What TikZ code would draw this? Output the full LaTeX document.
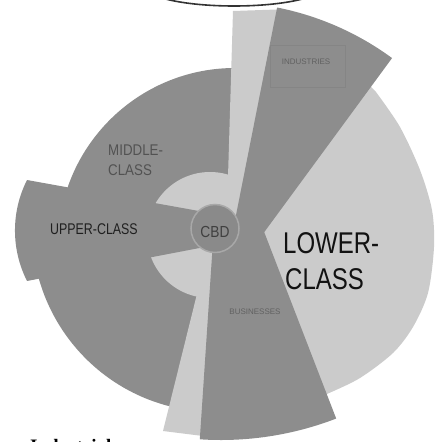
\documentclass[tikz,border=0pt]{standalone}
\usepackage{fontspec}
\newfontfamily\nsans[FakeStretch=0.86]{Liberation Sans}
\newfontfamily\lsans[FakeStretch=0.80]{Liberation Sans}
\newfontfamily\tsans{Liberation Sans}
\newfontfamily\bserif{Liberation Serif}
\definecolor{darkreg}{HTML}{8D8D8D}
\definecolor{lightreg}{HTML}{CBCBCB}
\definecolor{cbdfill}{HTML}{8A8A8A}
\definecolor{cbdrim}{HTML}{A8A8A8}
\begin{document}
\begin{tikzpicture}[x=1pt,y=-1pt,
  dark/.style={fill=darkreg},
  light/.style={fill=lightreg},
  lbl/.style={inner sep=0pt,anchor=base west},
  tiny/.style={inner sep=0pt,font=\tsans\fontsize{8}{9}\selectfont,text=black!62}]
\useasboundingbox (0,0) rectangle (442,442);
\clip (0,0) rectangle (442,442);
% top ellipse fragment
\draw[line width=1.6pt,black!80] (234,-14) ellipse[x radius=90,y radius=20];
% middle class
\path[dark] (236,176) -- (241.2,68.1) arc[start angle=272,end angle=185,radius=177]
  -- (32,229) arc[start angle=180,end angle=100,radius=183]
  -- (200,294) -- (210,235) -- cycle;
% lower class
\path[light] (250,250) -- (362,78)
  -- plot[smooth] coordinates {(376,92) (400,127) (420,170) (432,210) (434,247) (428,293) (413,327) (393,353) (360,378) (327,394) (310,401)}
  -- cycle;
% light ring
\path[light] (210,235) circle[radius=63];
% top light sliver
\path[light] (226.4,230) -- (233,11) -- (277,9.5) -- (240,230) -- cycle;
% industries
\path[dark] (221,291) -- (277.1,7.5) arc[start angle=281.2,end angle=306.3,radius=289] -- cycle;
% bottom light sliver
\path[light] (205.4,260) -- (163,431) -- (203,436) -- (214,260) -- cycle;
% businesses
\path[dark] (213.8,229) -- (199.8,439.3) arc[start angle=93.8,end angle=68.9,radius=320] -- (263,229) -- cycle;
% upper class
\path[dark] (27,180) arc[start angle=206.8,end angle=153.2,radius=112] -- (210,246) -- (210,213) -- cycle;
% CBD
\draw[fill=cbdfill,draw=cbdrim,line width=1.5pt] (215,228.5) circle[radius=24];
% faint box in industries
\draw[black!48,line width=0.5pt] (270,45) rectangle (345,87);
% labels
\node[tiny] (ind) at (306,62) {INDUSTRIES};
\node[tiny] (bus) at (255,312) {BUSINESSES};
\node[lbl,text=black!68,font=\nsans\fontsize{15.5}{18}\selectfont] (mid1) at (108,155) {MIDDLE-};
\node[lbl,text=black!68,font=\nsans\fontsize{15.5}{18}\selectfont] (mid2) at (108,175) {CLASS};
\node[lbl,text=black!88,font=\lsans\fontsize{15.5}{18}\selectfont] (upp) at (50,234) {UPPER-CLASS};
\node[inner sep=0pt,anchor=base,text=black!75,font=\nsans\fontsize{16}{18}\selectfont] (cbd) at (215,237) {CBD};
\node[lbl,text=black!93,font=\lsans\fontsize{30}{34}\selectfont] (low1) at (283,253) {LOWER-};
\node[lbl,text=black!93,font=\lsans\fontsize{30}{34}\selectfont] (low2) at (285,289) {CLASS};
\node[lbl,text=black,font=\bserif\bfseries\fontsize{19}{22}\selectfont] (indl) at (30,452) {Industrial};
\end{tikzpicture}
\end{document}
